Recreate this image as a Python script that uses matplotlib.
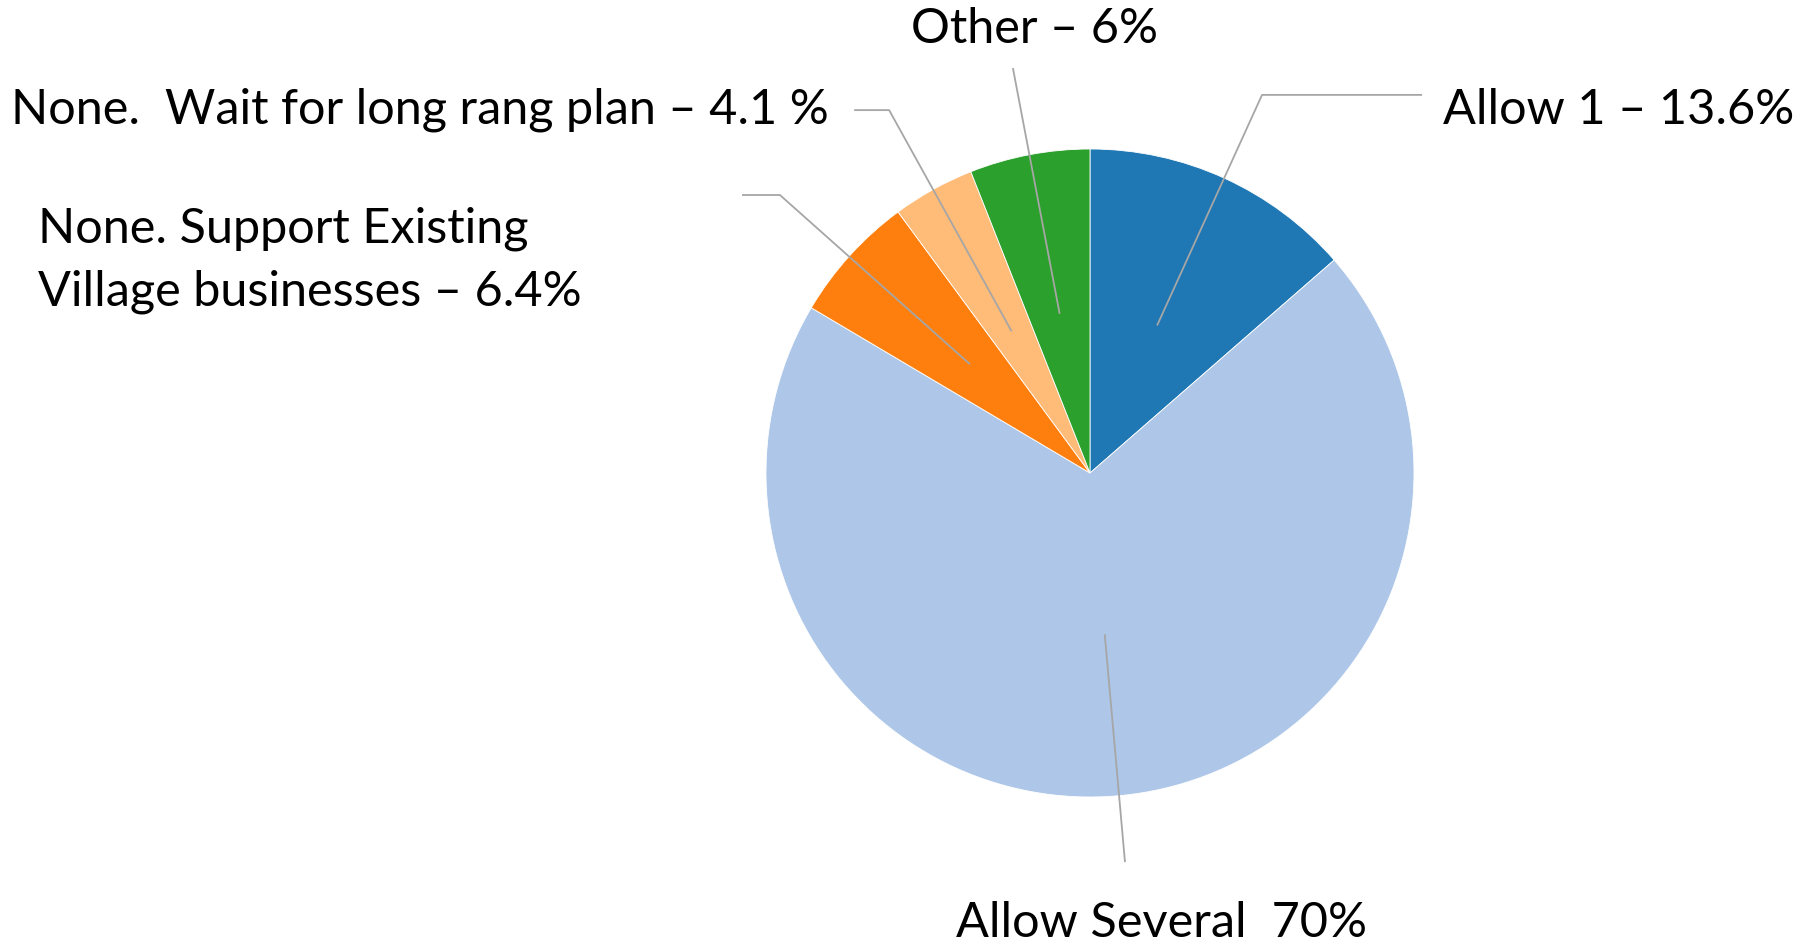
import numpy as np
import matplotlib.pyplot as plt

plt.rcParams['font.family'] = ['Lato', 'DejaVu Sans']

# Pie data (clockwise from 12 o'clock)
labels = ["Allow 1 \u2013 13.6%", "Allow Several  70%",
          "None. Support Existing\nVillage businesses \u2013 6.4%",
          "None.  Wait for long rang plan \u2013 4.1 %", "Other \u2013 6%"]
values = [13.6, 70.0, 6.4, 4.1, 6.0]
colors = ["#1f77b4", "#aec7e8", "#ff7f0e", "#ffbb78", "#2ca02c"]

fig = plt.figure(figsize=(18.1, 9.45), dpi=100)
ax = fig.add_axes([0, 0, 1, 1])

wedges, _ = ax.pie(values, colors=colors, startangle=90, counterclock=False,
                   radius=1.0, center=(0, 0), frame=True,
                   wedgeprops=dict(edgecolor="white", linewidth=0.6))
ax.set_xlim(-1090 / 324, 720 / 324)
ax.set_ylim(-471 / 324, 474 / 324)
ax.set_aspect("auto")
ax.axis("off")

# Leader line elbows / ends and label placement
elbows = [[(0.531, 1.167), (1.025, 1.167)],
          [(0.108, -1.201)],
          [(-0.957, 0.858), (-1.074, 0.858)],
          [(-0.620, 1.120), (-0.728, 1.120)],
          [(-0.238, 1.25)]]
text_pos = [(1.089, 1.123, "left"), (0.222, -1.386, "center"),
            (-3.247, 0.660, "left"), (-0.806, 1.123, "right"),
            (-0.170, 1.373, "center")]

for w, pts, (tx, ty, ha), lab in zip(wedges, elbows, text_pos, labels):
    ang = np.deg2rad((w.theta1 + w.theta2) / 2)
    xs = [0.5 * np.cos(ang)] + [p[0] for p in pts]
    ys = [0.5 * np.sin(ang)] + [p[1] for p in pts]
    ax.plot(xs, ys, color="#a6a6a6", lw=1.3, solid_capstyle="butt")
    ax.text(tx, ty, lab, ha=ha, va="center", fontsize=35,
            linespacing=1.5, color="black")

fig.savefig("out.png", dpi=100)
